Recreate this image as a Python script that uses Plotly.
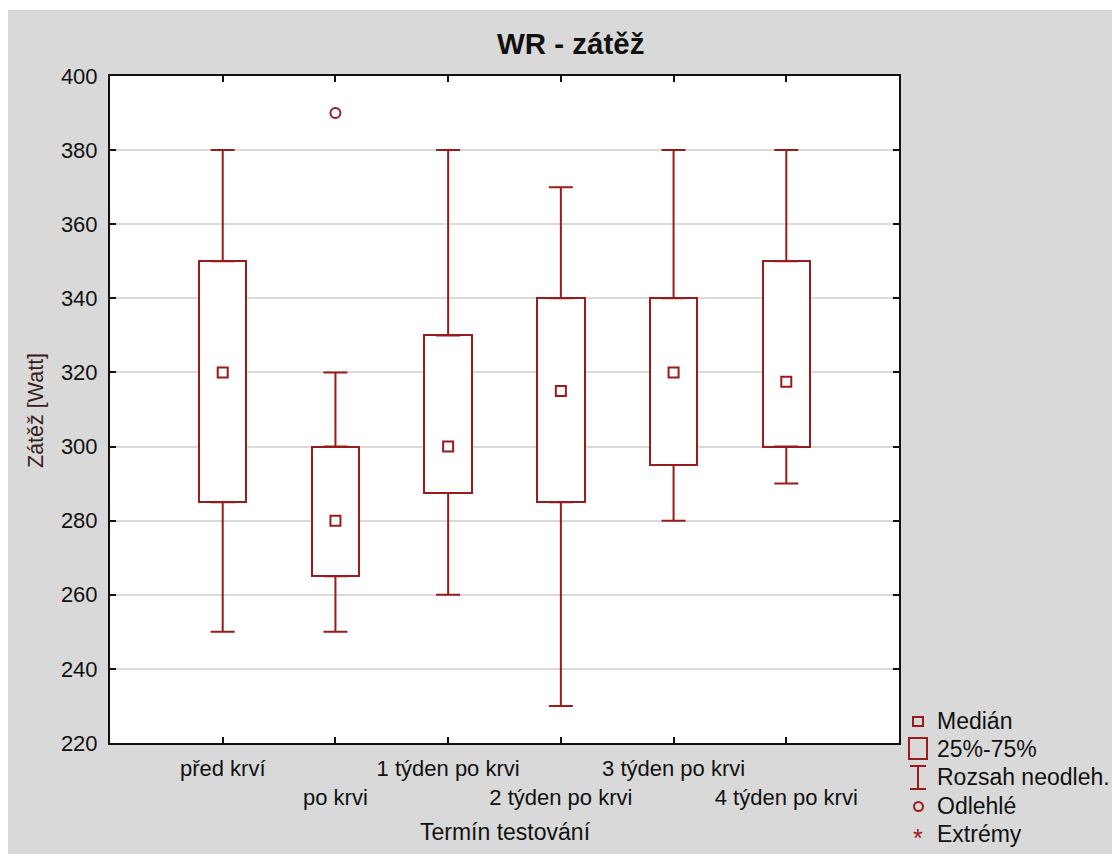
import plotly.graph_objects as go

# ---- data ----
categories = ["před krví", "po krvi", "1 týden po krvi", "2 týden po krvi",
              "3 týden po krvi", "4 týden po krvi"]
medians = [320, 280, 300, 315, 320, 317.5]
q1 = [285, 265, 287.5, 285, 295, 300]
q3 = [350, 300, 330, 340, 340, 350]
whisk_low = [250, 250, 260, 230, 280, 290]
whisk_high = [380, 320, 380, 370, 380, 380]
outlier_cat = ["po krvi"]
outlier_val = [390]

y_ticks = [220, 240, 260, 280, 300, 320, 340, 360, 380, 400]

legend_labels = ["Medián", "25%-75%", "Rozsah neodleh.", "Odlehlé", "Extrémy"]

# ---- styling ----
RED = "#9a1b1b"
BG = "#d9d9d9"
FONT = "Liberation Sans, Arial, sans-serif"
OFF = 8                      # page body margin
PW, PH = 1120, 854           # page size
W, H = PW - OFF, PH - OFF    # figure size
L, R, T, B = 110, 899, 76, 743  # plot area in page pixels

pos = list(range(1, len(categories) + 1))
cat_pos = {c: p for c, p in zip(categories, pos)}
ticktext = [c if i % 2 == 0 else "<br>" + c for i, c in enumerate(categories)]


def px(x):
    return (x - L) / (R - L)


def py(y):
    return (B - y) / (B - T)


fig = go.Figure()

# boxes (25%-75%)
fig.add_trace(go.Bar(
    x=pos, base=q1, y=[b - a for a, b in zip(q1, q3)],
    width=0.42, marker=dict(color="white", line=dict(color=RED, width=2)),
    showlegend=False, hoverinfo="skip"))

# upper whiskers
fig.add_trace(go.Scatter(
    x=pos, y=q3, mode="markers", marker=dict(size=2, color=RED, opacity=0),
    error_y=dict(type="data", symmetric=False,
                 array=[h - b for b, h in zip(q3, whisk_high)],
                 arrayminus=[0] * len(pos), width=12, thickness=2, color=RED),
    showlegend=False, hoverinfo="skip"))

# lower whiskers
fig.add_trace(go.Scatter(
    x=pos, y=q1, mode="markers", marker=dict(size=2, color=RED, opacity=0),
    error_y=dict(type="data", symmetric=False,
                 array=[0] * len(pos),
                 arrayminus=[a - l for a, l in zip(q1, whisk_low)],
                 width=12, thickness=2, color=RED),
    showlegend=False, hoverinfo="skip"))

# medians
fig.add_trace(go.Scatter(
    x=pos, y=medians, mode="markers",
    marker=dict(symbol="square-open", size=10, color=RED, line=dict(width=2)),
    showlegend=False))

# outliers
fig.add_trace(go.Scatter(
    x=[cat_pos[c] for c in outlier_cat], y=outlier_val, mode="markers",
    marker=dict(symbol="circle-open", size=10, color=RED, line=dict(width=2)),
    showlegend=False))

shapes = []
annotations = []

# thin white strip at the very top (screenshot edge)
shapes.append(dict(type="rect", xref="paper", yref="paper",
                   x0=px(0), x1=px(PW), y0=py(10), y1=py(OFF),
                   fillcolor="white", line=dict(width=0), layer="below"))

# ---- legend (drawn manually) ----
lx_sym = 918
lx_txt = 935
rows = [721, 749, 777, 806, 834]
# median small square
shapes.append(dict(type="rect", xref="paper", yref="paper",
                   x0=px(913), x1=px(923), y0=py(726), y1=py(717),
                   line=dict(color=RED, width=2), fillcolor="rgba(0,0,0,0)"))
# big square
shapes.append(dict(type="rect", xref="paper", yref="paper",
                   x0=px(909), x1=px(927), y0=py(759), y1=py(738),
                   line=dict(color=RED, width=2), fillcolor="rgba(0,0,0,0)"))
# I-beam
shapes.append(dict(type="line", xref="paper", yref="paper",
                   x0=px(918), x1=px(918), y0=py(789), y1=py(766),
                   line=dict(color=RED, width=2)))
shapes.append(dict(type="line", xref="paper", yref="paper",
                   x0=px(910), x1=px(926), y0=py(766), y1=py(766),
                   line=dict(color=RED, width=2)))
shapes.append(dict(type="line", xref="paper", yref="paper",
                   x0=px(910), x1=px(926), y0=py(789), y1=py(789),
                   line=dict(color=RED, width=2)))
# outlier circle
shapes.append(dict(type="circle", xref="paper", yref="paper",
                   x0=px(914), x1=px(923), y0=py(811), y1=py(802),
                   line=dict(color=RED, width=2)))
# extreme asterisk
annotations.append(dict(x=px(lx_sym), y=py(rows[4] + 4), xref="paper", yref="paper",
                        text="*", showarrow=False, xanchor="center", yanchor="middle",
                        font=dict(family=FONT, size=25, color=RED)))

for lab, ry in zip(legend_labels, rows):
    annotations.append(dict(x=px(lx_txt), y=py(ry), xref="paper", yref="paper",
                            text=lab, showarrow=False, xanchor="left", yanchor="middle",
                            font=dict(family=FONT, size=23, color="#111")))

# title
annotations.append(dict(x=px(571), y=py(43), xref="paper", yref="paper",
                        text="<b>WR - zátěž</b>", showarrow=False,
                        xanchor="center", yanchor="middle",
                        font=dict(family=FONT, size=29.5, color="#111")))
# axis titles
annotations.append(dict(x=px(36), y=py(411), xref="paper", yref="paper",
                        text="Zátěž [Watt]", textangle=-90, showarrow=False,
                        xanchor="center", yanchor="middle",
                        font=dict(family=FONT, size=21.5, color="#3a1c1c")))
annotations.append(dict(x=px(505), y=py(832), xref="paper", yref="paper",
                        text="Termín testování", showarrow=False,
                        xanchor="center", yanchor="middle",
                        font=dict(family=FONT, size=23, color="#111")))

fig.update_layout(
    width=W, height=H,
    margin=dict(l=L - OFF, r=PW - R, t=T - OFF, b=PH - B, pad=0),
    paper_bgcolor=BG, plot_bgcolor="white",
    showlegend=False,
    shapes=shapes, annotations=annotations,
    font=dict(family=FONT, size=22, color="#111"),
    bargap=0,
)
fig.update_xaxes(
    range=[0, len(categories) + 1], tickmode="array", tickvals=pos, ticktext=ticktext,
    tickangle=0,
    ticks="inside", ticklen=6, tickwidth=2, tickcolor="#111",
    showline=True, linecolor="#111", linewidth=2, mirror="ticks",
    showgrid=False, zeroline=False, ticklabelstandoff=5,
    tickfont=dict(family=FONT, size=22, color="#111"),
)
fig.update_yaxes(
    range=[220, 400], tickmode="array", tickvals=y_ticks,
    ticks="inside", ticklen=6, tickwidth=2, tickcolor="#111",
    showline=True, linecolor="#111", linewidth=2, mirror="ticks",
    showgrid=True, gridcolor="#dadada", gridwidth=2, zeroline=False,
    ticklabelstandoff=6,
    tickfont=dict(family=FONT, size=22, color="#111"),
)

fig.write_html("out.html")
